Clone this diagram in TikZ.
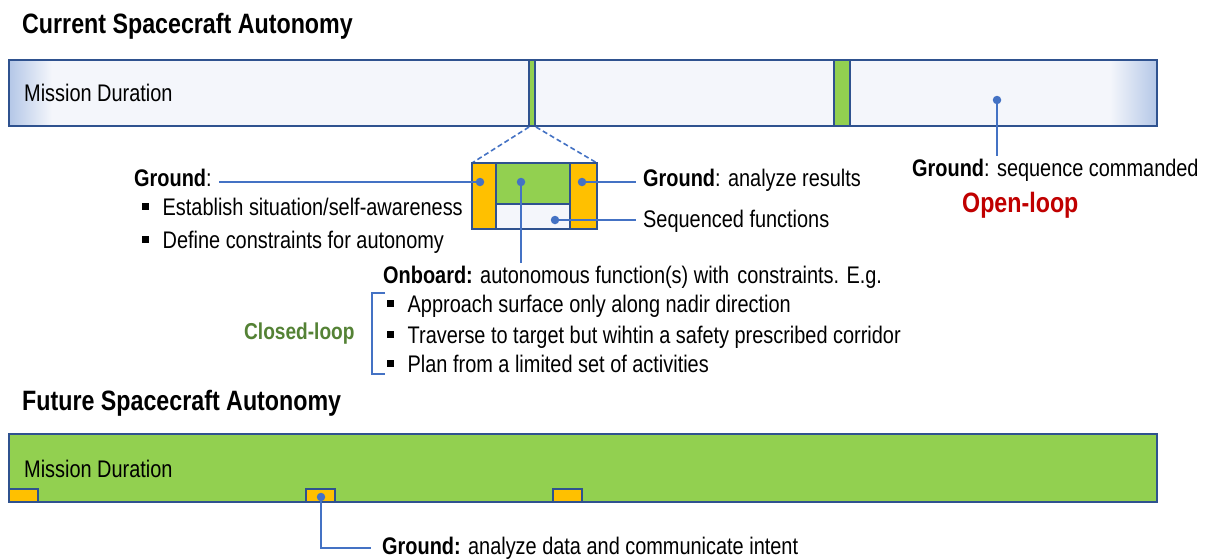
\documentclass[tikz,border=0pt]{standalone}
\usepackage{fontspec}
\setmainfont{Liberation Sans}[FakeStretch=0.83]
\usetikzlibrary{calc}
\definecolor{barblue}{HTML}{2F528F}
\definecolor{linkblue}{HTML}{4472C4}
\definecolor{paleblue}{HTML}{F4F6FB}
\definecolor{shadeblue}{HTML}{B4C7E7}
\definecolor{grassgreen}{HTML}{92D050}
\definecolor{amber}{HTML}{FFC000}
\definecolor{openred}{HTML}{C00000}
\definecolor{loopgreen}{HTML}{548235}
\tikzset{
  bar/.style={draw=barblue, line width=1.6pt},
  conn/.style={linkblue, line width=1.6pt},
  dot/.style={circle, fill=linkblue, inner sep=0pt, minimum size=8.5pt},
  txt/.style={anchor=base west, inner sep=0pt, font=\fontsize{24}{28}\selectfont},
  head/.style={txt, font=\fontsize{28}{32}\selectfont\bfseries},
}
\newcommand{\sqbul}{\rule[5.5pt]{6.5pt}{6.5pt}\hspace{14pt}}

\begin{document}
\begin{tikzpicture}[x=1pt,y=-1pt]
\useasboundingbox[fill=white] (0,0) rectangle (1206,558);

% current autonomy: long bar with two short ground passes
\node[head] (curT) at (22,33) {Current Spacecraft Autonomy};
\fill[paleblue] (9,60) rectangle (1157,126);
\shade[left color=shadeblue, right color=paleblue] (9,60) rectangle (52,126);
\shade[left color=paleblue, right color=shadeblue] (1110,60) rectangle (1157,126);
\draw[bar, fill=grassgreen] (529,60) rectangle (535,126);
\draw[bar, fill=grassgreen] (834,60) rectangle (850,126);
\draw[bar] (9,60) rectangle (1157,126);
\node[txt] (curM) at (24,101) {Mission Duration};

% blown-up pass
\draw[linkblue, line width=1.6pt, dash pattern=on 5pt off 3pt] (529,127) -- (472,163);
\draw[linkblue, line width=1.6pt, dash pattern=on 5pt off 3pt] (536,127) -- (597,163);
\draw[bar, fill=amber] (472,163) rectangle (496,229);
\draw[bar, fill=amber] (570,163) rectangle (597,229);
\draw[bar, fill=grassgreen] (496,163) rectangle (570,204);
\draw[bar, fill=paleblue] (496,204) rectangle (570,229);

\node[dot] (dL) at (480,182) {};
\node[dot] (dG) at (521,182) {};
\node[dot] (dR) at (582,182) {};
\node[dot] (dS) at (555,220) {};
\node[dot] (dT) at (997,100) {};

\node[txt] (gL) at (134,186) {\textbf{Ground}:};
\node[txt] (gL1) at (142,215) {\sqbul Establish situation/self-awareness};
\node[txt] (gL2) at (142,248) {\sqbul Define constraints for autonomy};
\node[txt] (gR) at (643,186) {\textbf{Ground}: analyze results};
\node[txt] (sq) at (643,227) {Sequenced functions};
\node[txt] (gS) at (912,176) {\textbf{Ground}: sequence commanded};
\node[head, text=openred] (open) at (962,212) {Open-loop};

\node[txt] (ob) at (383,283) {\textbf{Onboard:} autonomous function(s) with\hspace{8pt}constraints. E.g.};
\node[txt] (ob1) at (387,312) {\sqbul Approach surface only along nadir direction};
\node[txt] (ob2) at (387,343) {\sqbul Traverse to target but wihtin a safety prescribed corridor};
\node[txt] (ob3) at (387,372) {\sqbul Plan from a limited set of activities};
\node[txt, font=\fontsize{23}{27}\selectfont\bfseries, text=loopgreen] (closed) at (244,339) {Closed-loop};
\draw[linkblue, line width=1.4pt] (385,293) -- (372,293) -- (372,374) -- (385,374);

\draw[conn] (dL.center) -- ($(dL -| gL.east)+(7,0)$);
\draw[conn] (dR.center) -- ($(dR -| gR.west)+(-7,0)$);
\draw[conn] (dS.center) -- ($(dS -| sq.west)+(-7,0)$);
\draw[conn] (dG.center) -- ($(dG |- ob.north)+(0,-2)$);
\draw[conn] (dT.center) -- ($(dT |- gS.north)+(0,-2)$);

% future autonomy: onboard all the time, short ground slots
\node[head] (futT) at (22,410) {Future Spacecraft Autonomy};
\draw[bar, fill=grassgreen] (9,434) rectangle (1157,502);
\foreach \x in {9,306,553}
  \draw[bar, line width=1.2pt, fill=amber] (\x,489) rectangle (\x+29,502);
\node[txt] (futM) at (24,477) {Mission Duration};
\node[dot] (dB) at (321,497) {};
\node[txt] (gB) at (382,554) {\textbf{Ground:} analyze data and communicate intent};
\draw[conn] (dB.center) |- ($(gB.west)+(-11,0)$);
\end{tikzpicture}
\end{document}
